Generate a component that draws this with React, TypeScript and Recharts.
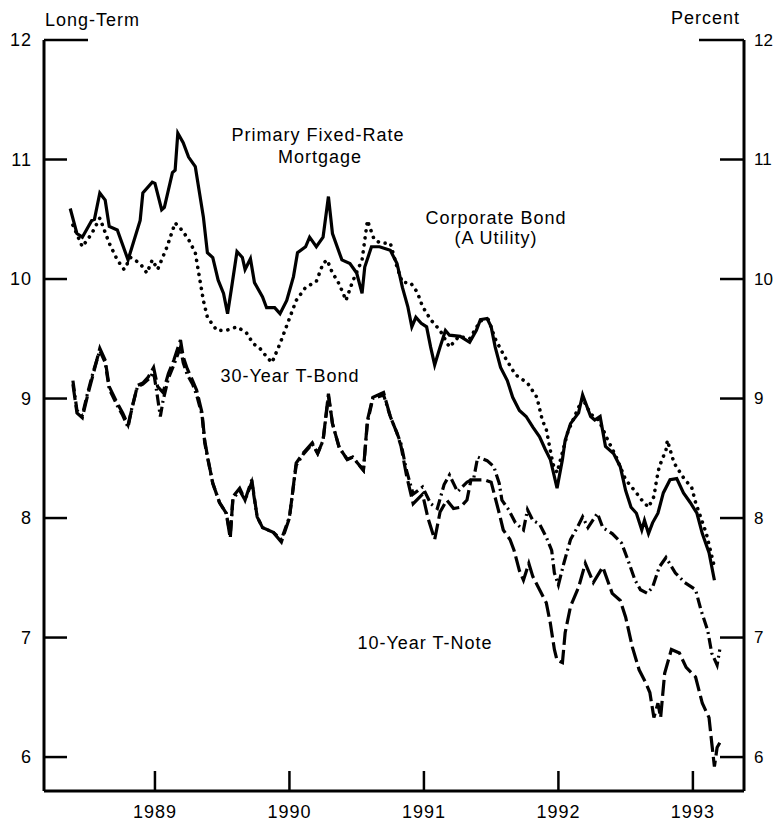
import { LineChart, Line, XAxis, YAxis } from 'recharts'

// Long-term interest rates, percent (decimal years)
const mortgageDates = [
  1988.37, 1988.42, 1988.46, 1988.53, 1988.55, 1988.59, 1988.63, 1988.66, 1988.72, 1988.80,
  1988.89, 1988.91, 1988.98, 1989.0, 1989.05, 1989.07, 1989.13, 1989.15, 1989.17, 1989.21,
  1989.25, 1989.3, 1989.32, 1989.36, 1989.39, 1989.43, 1989.47, 1989.51, 1989.54, 1989.57,
  1989.61, 1989.65, 1989.67, 1989.71, 1989.74, 1989.8, 1989.83, 1989.89, 1989.93, 1989.98,
  1990.03, 1990.06, 1990.12, 1990.15, 1990.2, 1990.25, 1990.29, 1990.32, 1990.39, 1990.45,
  1990.5, 1990.54, 1990.56, 1990.61, 1990.67, 1990.75, 1990.8, 1990.84, 1990.88, 1990.91,
  1990.94, 1990.98, 1991.02, 1991.05, 1991.08, 1991.12, 1991.16, 1991.19, 1991.27, 1991.34,
  1991.39, 1991.42, 1991.47, 1991.5, 1991.53, 1991.57, 1991.62, 1991.66, 1991.71, 1991.76,
  1991.81, 1991.86, 1991.9, 1991.94, 1991.99, 1992.03, 1992.05, 1992.09, 1992.15, 1992.18,
  1992.24, 1992.27, 1992.31, 1992.35, 1992.41, 1992.46, 1992.5, 1992.54, 1992.58, 1992.62,
  1992.64, 1992.67, 1992.7, 1992.74, 1992.78, 1992.83, 1992.88, 1992.93, 1992.98, 1993.03,
  1993.07, 1993.12, 1993.16,
]
const mortgageRates = [
  10.59, 10.38, 10.35, 10.49, 10.5, 10.72, 10.66, 10.44, 10.41, 10.16,
  10.49, 10.72, 10.81, 10.8, 10.58, 10.6, 10.89, 10.91, 11.22, 11.14,
  11.02, 10.94, 10.8, 10.52, 10.22, 10.18, 9.99, 9.88, 9.71, 9.93,
  10.23, 10.18, 10.08, 10.17, 9.97, 9.85, 9.76, 9.76, 9.71, 9.82,
  10.02, 10.22, 10.27, 10.35, 10.27, 10.35, 10.69, 10.38, 10.16, 10.13,
  10.05, 9.88, 10.1, 10.27, 10.27, 10.24, 10.13, 9.93, 9.77, 9.6,
  9.68, 9.63, 9.6, 9.43, 9.28, 9.43, 9.57, 9.53, 9.52, 9.47,
  9.57, 9.66, 9.67, 9.6, 9.43, 9.26, 9.15, 9.01, 8.9, 8.85,
  8.76, 8.68, 8.58, 8.49, 8.25, 8.49, 8.65, 8.79, 8.88, 9.03,
  8.85, 8.82, 8.85, 8.6, 8.54, 8.43, 8.23, 8.09, 8.04, 7.9,
  7.98, 7.87, 7.96, 8.04, 8.21, 8.32, 8.33, 8.21, 8.13, 8.04,
  7.87, 7.71, 7.48,
]

const corporateDates = [
  1988.39, 1988.46, 1988.53, 1988.59, 1988.66, 1988.72, 1988.77, 1988.82, 1988.89, 1988.94,
  1988.98, 1989.02, 1989.09, 1989.15, 1989.2, 1989.25, 1989.3, 1989.33, 1989.36, 1989.39,
  1989.46, 1989.53, 1989.61, 1989.68, 1989.73, 1989.78, 1989.83, 1989.87, 1989.93, 1989.99,
  1990.05, 1990.12, 1990.2, 1990.25, 1990.28, 1990.32, 1990.36, 1990.4, 1990.42, 1990.47,
  1990.54, 1990.58, 1990.63, 1990.68, 1990.75, 1990.8, 1990.84, 1990.9, 1990.95, 1990.99,
  1991.05, 1991.12, 1991.19, 1991.26, 1991.34, 1991.42, 1991.48, 1991.53, 1991.6, 1991.68,
  1991.77, 1991.84, 1991.88, 1991.91, 1991.96, 1991.99, 1992.03, 1992.07, 1992.12, 1992.18,
  1992.24, 1992.3, 1992.36, 1992.43, 1992.5, 1992.58, 1992.62, 1992.67, 1992.71, 1992.73,
  1992.75, 1992.8, 1992.81, 1992.86, 1992.94, 1992.99, 1993.02, 1993.1, 1993.16,
]
const corporateRates = [
  10.45, 10.27, 10.38, 10.51, 10.3, 10.16, 10.08, 10.18, 10.13, 10.05,
  10.16, 10.08, 10.27, 10.47, 10.41, 10.33, 10.22, 10.02, 9.82, 9.68,
  9.57, 9.57, 9.6, 9.55, 9.46, 9.42, 9.35, 9.3, 9.46, 9.64,
  9.82, 9.93, 9.98, 10.13, 10.16, 10.05, 9.98, 9.88, 9.82, 9.98,
  10.16, 10.49, 10.33, 10.3, 10.3, 10.1, 9.97, 9.97, 9.89, 9.77,
  9.66, 9.57, 9.43, 9.52, 9.5, 9.65, 9.66, 9.5, 9.35, 9.2,
  9.13, 9.01, 8.82, 8.74, 8.45, 8.38, 8.55, 8.72, 8.85, 9.0,
  8.87, 8.82, 8.67, 8.51, 8.32, 8.21, 8.15, 8.09, 8.18, 8.32,
  8.43, 8.57, 8.65, 8.46, 8.32, 8.26, 8.13, 7.87, 7.59,
]

const bondDates = [
  1988.39, 1988.42, 1988.46, 1988.5, 1988.54, 1988.59, 1988.63, 1988.66, 1988.72, 1988.76,
  1988.8, 1988.83, 1988.87, 1988.91, 1988.95, 1988.99, 1989.01, 1989.04, 1989.06, 1989.1,
  1989.14, 1989.19, 1989.21, 1989.24, 1989.28, 1989.31, 1989.35, 1989.37, 1989.39, 1989.43,
  1989.48, 1989.53, 1989.56, 1989.58, 1989.63, 1989.67, 1989.72, 1989.76, 1989.8, 1989.88,
  1989.94, 1990.0, 1990.05, 1990.1, 1990.17, 1990.21, 1990.25, 1990.29, 1990.32, 1990.37,
  1990.43, 1990.47, 1990.55, 1990.58, 1990.62, 1990.7, 1990.75, 1990.8, 1990.83, 1990.87,
  1990.92, 1990.99, 1991.05, 1991.1, 1991.15, 1991.19, 1991.25, 1991.32, 1991.37, 1991.4,
  1991.47, 1991.52, 1991.56, 1991.58, 1991.63, 1991.68, 1991.74, 1991.77, 1991.81, 1991.86,
  1991.91, 1991.95, 1991.97, 1992.0, 1992.04, 1992.09, 1992.14, 1992.18, 1992.22, 1992.29,
  1992.33, 1992.4, 1992.47, 1992.51, 1992.57, 1992.61, 1992.66, 1992.7, 1992.75, 1992.8,
  1992.87, 1992.94, 1993.02, 1993.06, 1993.11, 1993.14, 1993.18, 1993.2,
]
const bondRates = [
  9.15, 8.9, 8.86, 9.05, 9.22, 9.4, 9.3, 9.08, 8.94, 8.86,
  8.76, 8.93, 9.1, 9.12, 9.16, 9.22, 9.08, 8.85, 8.98, 9.17,
  9.28, 9.43, 9.3, 9.2, 9.12, 9.03, 8.86, 8.63, 8.51, 8.29,
  8.13, 8.04, 7.86, 8.16, 8.23, 8.15, 8.3, 8.01, 7.92, 7.88,
  7.82, 8.01, 8.44, 8.53, 8.62, 8.54, 8.65, 9.02, 8.79, 8.59,
  8.49, 8.51, 8.4, 8.8, 9.0, 9.03, 8.85, 8.71, 8.62, 8.4,
  8.2, 8.26, 8.12, 8.08, 8.28, 8.36, 8.22, 8.3, 8.33, 8.51,
  8.48, 8.43, 8.29, 8.15, 8.07, 7.96, 7.9, 8.07, 7.98, 7.95,
  7.84, 7.73, 7.54, 7.44, 7.62, 7.82, 7.92, 8.01, 7.92, 8.04,
  7.92, 7.87, 7.79, 7.67, 7.48, 7.4, 7.37, 7.42, 7.59, 7.67,
  7.54, 7.46, 7.4, 7.23, 7.06, 6.87, 6.77, 6.9,
]

const noteDates = [
  1988.39, 1988.42, 1988.46, 1988.5, 1988.54, 1988.59, 1988.63, 1988.66, 1988.72, 1988.76,
  1988.8, 1988.83, 1988.87, 1988.91, 1988.95, 1988.99, 1989.02, 1989.06, 1989.1, 1989.14,
  1989.19, 1989.21, 1989.24, 1989.28, 1989.31, 1989.35, 1989.37, 1989.39, 1989.43, 1989.48,
  1989.53, 1989.56, 1989.58, 1989.63, 1989.67, 1989.72, 1989.76, 1989.8, 1989.88, 1989.94,
  1990.0, 1990.05, 1990.1, 1990.17, 1990.21, 1990.25, 1990.29, 1990.32, 1990.37, 1990.43,
  1990.47, 1990.55, 1990.58, 1990.62, 1990.7, 1990.75, 1990.8, 1990.83, 1990.87, 1990.92,
  1990.99, 1991.03, 1991.08, 1991.12, 1991.17, 1991.22, 1991.27, 1991.32, 1991.35, 1991.45,
  1991.5, 1991.56, 1991.59, 1991.64, 1991.67, 1991.71, 1991.74, 1991.78, 1991.81, 1991.86,
  1991.91, 1991.94, 1991.97, 1991.99, 1992.03, 1992.05, 1992.09, 1992.15, 1992.2, 1992.26,
  1992.33, 1992.4, 1992.46, 1992.5, 1992.55, 1992.6, 1992.65, 1992.68, 1992.71, 1992.74,
  1992.76, 1992.79, 1992.84, 1992.9, 1992.95, 1993.02, 1993.07, 1993.12, 1993.14, 1993.16,
  1993.18, 1993.2,
]
const noteRates = [
  9.12, 8.88, 8.84, 9.03, 9.2, 9.42, 9.32, 9.1, 8.96, 8.88,
  8.78, 8.92, 9.11, 9.13, 9.18, 9.26, 9.1, 9.05, 9.21, 9.32,
  9.49, 9.35, 9.25, 9.15, 9.07, 8.88, 8.65, 8.52, 8.29, 8.13,
  8.04, 7.83, 8.18, 8.25, 8.15, 8.32, 8.01, 7.92, 7.88, 7.8,
  8.0, 8.46, 8.54, 8.63, 8.54, 8.65, 9.04, 8.79, 8.59, 8.49,
  8.51, 8.4, 8.82, 9.01, 9.05, 8.85, 8.71, 8.6, 8.36, 8.12,
  8.2, 8.0, 7.82, 8.05, 8.15, 8.08, 8.09, 8.15, 8.32, 8.32,
  8.3, 8.04, 7.9, 7.82, 7.73, 7.56, 7.48, 7.62, 7.51, 7.4,
  7.29, 7.12, 6.9, 6.81, 6.79, 7.04, 7.26, 7.42, 7.62, 7.46,
  7.59, 7.37, 7.31, 7.17, 6.92, 6.73, 6.62, 6.54, 6.33, 6.45,
  6.33, 6.7, 6.9, 6.87, 6.75, 6.67, 6.45, 6.33, 6.12, 5.92,
  6.08, 6.12,
]

const yearTicks = [1989, 1990, 1991, 1992, 1993]
const rateTicks = [6, 7, 8, 9, 10, 11, 12]

const toPoints = (dates: number[], rates: number[]) =>
  dates.map((t, i) => ({ t, rate: rates[i] }))

const font = {
  fontFamily: '"Liberation Sans", Arial, sans-serif',
  fontSize: 18,
  letterSpacing: 1,
}

function LeftTick({ x, y, payload }: any) {
  const len = payload.value === 12 ? 44 : 23
  return (
    <g>
      <line x1={x} x2={x + len} y1={y} y2={y} stroke="#000" strokeWidth={2.5} />
      <text x={x - 12} y={y} textAnchor="end" dominantBaseline="central" fill="#000" style={font}>
        {payload.value}
      </text>
    </g>
  )
}

function RightTick({ x, y, payload }: any) {
  const len = payload.value === 12 ? 45 : 24
  return (
    <g>
      <line x1={x - len} x2={x} y1={y} y2={y} stroke="#000" strokeWidth={2.5} />
      <text
        x={x + 10}
        y={y}
        textAnchor="start"
        dominantBaseline="central"
        fill="#000"
        style={{ ...font, fontSize: 17, letterSpacing: 0 }}
      >
        {payload.value}
      </text>
    </g>
  )
}

function BottomTick({ x, y, payload }: any) {
  return (
    <g>
      <line x1={x} x2={x} y1={y} y2={y - 20} stroke="#000" strokeWidth={2.5} />
      <text x={x} y={y + 21} textAnchor="middle" dominantBaseline="central" fill="#000" style={font}>
        {payload.value}
      </text>
    </g>
  )
}

const labelStyle = { ...font, fill: '#000' } as const

export default function App() {
  const yDomain = [5.716, 12]
  return (
    <div style={{ position: 'absolute', left: 0, top: 0, width: 777, height: 822, background: '#fff' }}>
      <LineChart width={777} height={822} margin={{ top: 40, right: 0, bottom: 0, left: 0 }}>
        <XAxis
          dataKey="t"
          type="number"
          domain={[1988.175, 1993.38]}
          ticks={yearTicks}
          interval={0}
          allowDataOverflow
          height={31}
          tickSize={0}
          tickMargin={0}
          tickLine={false}
          axisLine={{ stroke: '#000', strokeWidth: 3 }}
          tick={<BottomTick />}
        />
        <YAxis
          yAxisId="left"
          type="number"
          domain={yDomain}
          ticks={rateTicks}
          interval={0}
          allowDataOverflow
          width={44}
          tickSize={0}
          tickMargin={0}
          tickLine={false}
          axisLine={{ stroke: '#000', strokeWidth: 3 }}
          tick={<LeftTick />}
        />
        <YAxis
          yAxisId="right"
          orientation="right"
          type="number"
          domain={yDomain}
          ticks={rateTicks}
          interval={0}
          allowDataOverflow
          width={33}
          tickSize={0}
          tickMargin={0}
          tickLine={false}
          axisLine={{ stroke: '#000', strokeWidth: 3 }}
          tick={<RightTick />}
        />
        <Line
          yAxisId="left"
          data={toPoints(mortgageDates, mortgageRates)}
          dataKey="rate"
          type="linear"
          stroke="#000"
          strokeWidth={3.2}
          dot={false}
          isAnimationActive={false}
        />
        <Line
          yAxisId="left"
          data={toPoints(corporateDates, corporateRates)}
          dataKey="rate"
          type="linear"
          stroke="#000"
          strokeWidth={3.6}
          strokeDasharray="0.1 7"
          strokeLinecap="round"
          dot={false}
          isAnimationActive={false}
        />
        <Line
          yAxisId="left"
          data={toPoints(bondDates, bondRates)}
          dataKey="rate"
          type="linear"
          stroke="#000"
          strokeWidth={3.2}
          strokeDasharray="11 4 2 4"
          dot={false}
          isAnimationActive={false}
        />
        <Line
          yAxisId="left"
          data={toPoints(noteDates, noteRates)}
          dataKey="rate"
          type="linear"
          stroke="#000"
          strokeWidth={3.2}
          strokeDasharray="16 5"
          dot={false}
          isAnimationActive={false}
        />
      </LineChart>
      <svg
        width={777}
        height={822}
        style={{ position: 'absolute', left: 0, top: 0, pointerEvents: 'none' }}
      >
        <text x={45} y={20} dominantBaseline="central" style={labelStyle}>Long-Term</text>
        <text x={740} y={18} textAnchor="end" dominantBaseline="central" style={labelStyle}>Percent</text>
        <text x={318} y={135} textAnchor="middle" dominantBaseline="central" style={labelStyle}>Primary Fixed-Rate</text>
        <text x={320} y={157} textAnchor="middle" dominantBaseline="central" style={labelStyle}>Mortgage</text>
        <text x={496} y={218} textAnchor="middle" dominantBaseline="central" style={labelStyle}>Corporate Bond</text>
        <text x={496} y={238} textAnchor="middle" dominantBaseline="central" style={labelStyle}>(A Utility)</text>
        <text x={290} y={376} textAnchor="middle" dominantBaseline="central" style={labelStyle}>30-Year T-Bond</text>
        <text x={425} y={643} textAnchor="middle" dominantBaseline="central" style={labelStyle}>10-Year T-Note</text>
      </svg>
    </div>
  )
}
